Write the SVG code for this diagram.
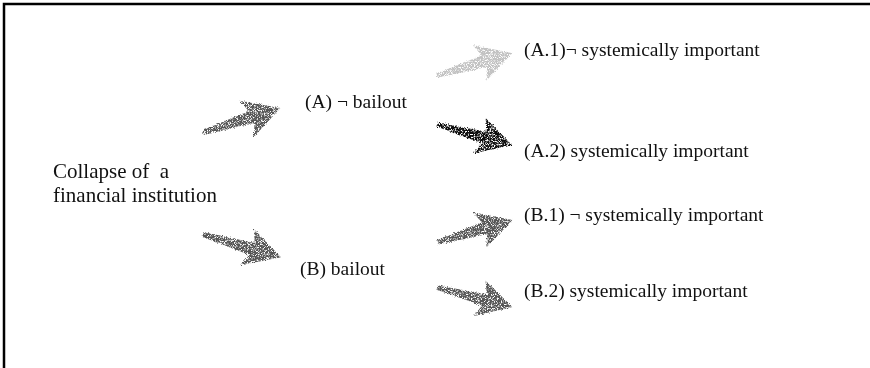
<svg xmlns="http://www.w3.org/2000/svg" xmlns:xlink="http://www.w3.org/1999/xlink" width="870" height="368" viewBox="0 0 870 368">
<style>
  .t { font-family: "Liberation Serif", "Times New Roman", serif; font-size: 19.5px; fill: #111; }
  .r { font-size: 21px; }
  .dark { fill: #575757; }
  .light { fill: #c2c2c2; }
  .black { fill: #0d0d0d; }
</style>
<defs>
  <filter id="chalk" x="-20%" y="-40%" width="140%" height="180%">
    <feTurbulence type="fractalNoise" baseFrequency="0.9" numOctaves="2" seed="3" result="n"/>
    <feDisplacementMap in="SourceGraphic" in2="n" scale="3.5" xChannelSelector="R" yChannelSelector="G" result="d"/>
    <feTurbulence type="fractalNoise" baseFrequency="1.3" numOctaves="1" seed="7" result="n2"/>
    <feColorMatrix in="n2" type="matrix" values="0 0 0 0 0  0 0 0 0 0  0 0 0 0 0  0 0 0 -5 3.4" result="mask"/>
    <feComposite in="d" in2="mask" operator="in"/>
  </filter>
  <path id="arw" d="M0,-2 C15,-3 30,-4.5 50,-6.5 L44,-19 L81,0 L47,20 L52,6.5 C32,5 15,4 0,2.8 Z"/>
</defs>
<rect x="4" y="4" width="870" height="370" fill="none" stroke="#000" stroke-width="2.5"/>
<g id="connectors" filter="url(#chalk)">
  <use xlink:href="#arw" class="dark" transform="translate(203,132) rotate(-17.3)"/>
  <use xlink:href="#arw" class="dark" transform="translate(203,235) rotate(15.9) scale(1,-1)"/>
  <use xlink:href="#arw" class="light" transform="translate(437,75) rotate(-16.3) scale(0.97)"/>
  <use xlink:href="#arw" class="black" transform="translate(437,125) rotate(14.9) scale(0.96,-0.96)"/>
  <use xlink:href="#arw" class="dark" transform="translate(437,242) rotate(-16.3) scale(0.97)"/>
  <use xlink:href="#arw" class="dark" transform="translate(437,288) rotate(14.2) scale(0.96,-0.96)"/>
</g>
<g id="root"><text class="t r" x="53" y="178">Collapse of&#160; a</text><text class="t r" x="53" y="202">financial institution</text></g>
<g id="A"><text class="t" x="305" y="108">(A) ¬ bailout</text></g>
<g id="B"><text class="t" x="300" y="275">(B) bailout</text></g>
<g id="A1"><text class="t" x="524" y="56">(A.1)¬ systemically important</text></g>
<g id="A2"><text class="t" x="524" y="157">(A.2) systemically important</text></g>
<g id="B1"><text class="t" x="524" y="221">(B.1) ¬ systemically important</text></g>
<g id="B2"><text class="t" x="524" y="297">(B.2) systemically important</text></g>
</svg>
